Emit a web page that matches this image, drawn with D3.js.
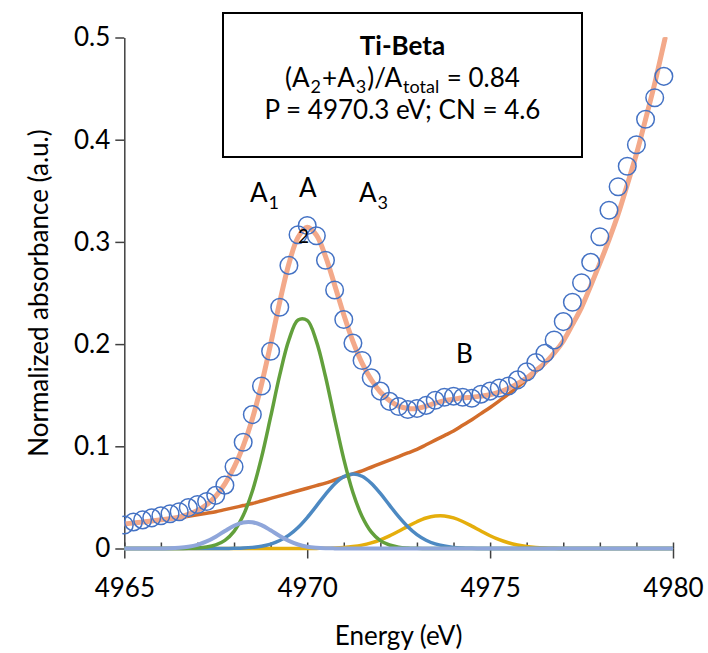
<!DOCTYPE html>
<html>
<head>
<meta charset="utf-8">
<script src="https://cdn.jsdelivr.net/npm/d3@7"></script>
<style>
  body { margin: 0; background: #fff; }
  text { font-family: Lato, 'Open Sans', sans-serif; fill: #000; }
</style>
</head>
<body>
<svg id="chart" width="708" height="653"></svg>
<script>
// measured Ti K pre-edge (open circles)
const measEnergy = [
  4965, 4965.25, 4965.5, 4965.75, 4966, 4966.25, 4966.5, 4966.75,
  4967, 4967.25, 4967.5, 4967.75, 4968, 4968.25, 4968.5, 4968.75,
  4969, 4969.25, 4969.5, 4969.75, 4970, 4970.25, 4970.5, 4970.75,
  4971, 4971.25, 4971.5, 4971.75, 4972, 4972.25, 4972.5, 4972.75,
  4973, 4973.25, 4973.5, 4973.75, 4974, 4974.25, 4974.5, 4974.75,
  4975, 4975.25, 4975.5, 4975.75, 4976, 4976.25, 4976.5, 4976.75,
  4977, 4977.25, 4977.5, 4977.75, 4978, 4978.25, 4978.5, 4978.75,
  4979, 4979.25, 4979.5, 4979.75
];
const measured = [
  0.023, 0.026, 0.028, 0.030, 0.032, 0.034, 0.036, 0.040,
  0.043, 0.046, 0.052, 0.062, 0.080, 0.104, 0.131, 0.159,
  0.193, 0.236, 0.277, 0.307, 0.316, 0.306, 0.282, 0.253,
  0.224, 0.201, 0.184, 0.167, 0.154, 0.144, 0.139, 0.136,
  0.137, 0.140, 0.145, 0.148, 0.149, 0.148, 0.147, 0.151,
  0.154, 0.157, 0.159, 0.165, 0.173, 0.182, 0.191, 0.204,
  0.222, 0.241, 0.260, 0.280, 0.305, 0.331, 0.354, 0.374,
  0.395, 0.420, 0.441, 0.462
];

// fit curves, read on the same grid out to 4980
const fitEnergy = measEnergy.concat([4980]);
const totalFit = [
  0.024, 0.025, 0.026, 0.027, 0.0281, 0.0292, 0.0307, 0.0334,
  0.0371, 0.0428, 0.0511, 0.0632, 0.0793, 0.1002, 0.1268, 0.1604,
  0.1998, 0.2413, 0.2786, 0.3046, 0.3143, 0.3068, 0.2858, 0.2579,
  0.2288, 0.2027, 0.1814, 0.1652, 0.1531, 0.1447, 0.1393, 0.1370,
  0.1370, 0.1394, 0.1422, 0.1447, 0.1460, 0.1474, 0.1481, 0.1491,
  0.1505, 0.1531, 0.1566, 0.1614, 0.1669, 0.1740, 0.1815, 0.1912,
  0.203, 0.219, 0.236, 0.257, 0.279, 0.302, 0.327, 0.356,
  0.386, 0.420, 0.455, 0.494, 0.534
];
const background = [
  0.024, 0.025, 0.026, 0.027, 0.028, 0.029, 0.030, 0.0315,
  0.033, 0.0345, 0.036, 0.038, 0.040, 0.042, 0.044, 0.0465,
  0.049, 0.0515, 0.054, 0.0565, 0.059, 0.0615, 0.064, 0.067,
  0.070, 0.073, 0.076, 0.0795, 0.083, 0.0865, 0.090, 0.0935,
  0.097, 0.1015, 0.106, 0.1105, 0.115, 0.1205, 0.126, 0.132,
  0.138, 0.1445, 0.151, 0.158, 0.165, 0.173, 0.181, 0.191,
  0.203, 0.219, 0.236, 0.257, 0.279, 0.302, 0.327, 0.356,
  0.386, 0.420, 0.455, 0.494, 0.534
];
const peakA1 = [
  0, 0, 0, 0, 0.0001, 0.0002, 0.0007, 0.0017,
  0.0036, 0.0069, 0.0116, 0.0171, 0.0223, 0.0255, 0.0257, 0.0228,
  0.0178, 0.0122, 0.0074, 0.0039, 0.0018, 0.0008, 0.0003, 0.0001,
  0, 0, 0, 0, 0, 0, 0, 0,
  0, 0, 0, 0, 0, 0, 0, 0,
  0, 0, 0, 0, 0, 0, 0, 0,
  0, 0, 0, 0, 0, 0, 0, 0,
  0, 0, 0, 0, 0
];
const peakA2 = [
  0, 0, 0, 0, 0, 0, 0, 0.0002,
  0.0005, 0.0014, 0.0035, 0.0080, 0.0168, 0.0322, 0.0560, 0.0889,
  0.1287, 0.1698, 0.2041, 0.2236, 0.2232, 0.2029, 0.1683, 0.1271,
  0.0875, 0.0548, 0.0314, 0.0163, 0.0077, 0.0034, 0.0013, 0.0005,
  0.0002, 0, 0, 0, 0, 0, 0, 0,
  0, 0, 0, 0, 0, 0, 0, 0,
  0, 0, 0, 0, 0, 0, 0, 0,
  0, 0, 0, 0, 0
];
const peakA3 = [
  0, 0, 0, 0, 0, 0, 0, 0,
  0, 0, 0, 0, 0.0002, 0.0005, 0.0011, 0.0022,
  0.0043, 0.0078, 0.0131, 0.0206, 0.0303, 0.0415, 0.0530, 0.0632,
  0.0703, 0.0730, 0.0707, 0.0639, 0.0539, 0.0424, 0.0311, 0.0213,
  0.0136, 0.0081, 0.0045, 0.0024, 0.0011, 0.0005, 0.0002, 0,
  0, 0, 0, 0, 0, 0, 0, 0,
  0, 0, 0, 0, 0, 0, 0, 0,
  0, 0, 0, 0, 0
];
const peakB = [
  0, 0, 0, 0, 0, 0, 0, 0,
  0, 0, 0, 0, 0, 0, 0, 0,
  0, 0, 0, 0, 0, 0.0001, 0.0002, 0.0005,
  0.0010, 0.0019, 0.0033, 0.0055, 0.0085, 0.0124, 0.0169, 0.0217,
  0.0262, 0.0298, 0.0317, 0.0318, 0.0299, 0.0264, 0.0219, 0.0171,
  0.0125, 0.0086, 0.0056, 0.0034, 0.0019, 0.0010, 0.0005, 0.0002,
  0, 0, 0, 0, 0, 0, 0, 0,
  0, 0, 0, 0, 0
];

const xTicks = [4965, 4970, 4975, 4980];
const xMinorTicks = d3.range(4965, 4981, 1);
const yTicks = [0, 0.1, 0.2, 0.3, 0.4, 0.5];

const svg = d3.select('#chart');
const x = d3.scaleLinear().domain([4965, 4980]).range([124.3, 673]);
const y = d3.scaleLinear().domain([0, 0.5]).range([548.5, 37.5]);
const axisColor = '#404040';

// axes
const yAxis = svg.append('g')
  .attr('transform', `translate(${x(4965)},0)`)
  .call(d3.axisLeft(y).tickValues(yTicks).tickSize(9).tickSizeOuter(0).tickPadding(5)
    .tickFormat((d) => String(d)));

const xAxis = svg.append('g')
  .attr('transform', `translate(0,${y(0)})`)
  .call(d3.axisBottom(x).tickValues(xTicks).tickSizeInner(10).tickSizeOuter(0).tickPadding(20)
    .tickFormat(d3.format('d')));

const xMinor = svg.append('g')
  .attr('transform', `translate(0,${y(0)})`)
  .call(d3.axisBottom(x).tickValues(xMinorTicks).tickSize(-6).tickFormat(''));
xMinor.select('.domain').remove();

[yAxis, xAxis, xMinor].forEach((g) => {
  g.attr('font-family', null).attr('font-size', null);
  g.selectAll('path, line').attr('stroke', axisColor).attr('stroke-width', 1.5);
  g.selectAll('text').attr('font-size', 26).attr('fill', '#000');
});

svg.append('text')
  .attr('transform', 'translate(48,293) rotate(-90)')
  .attr('text-anchor', 'middle')
  .attr('font-size', 26)
  .text('Normalized absorbance (a.u.)');

svg.append('text')
  .attr('x', (x(4965) + x(4980)) / 2)
  .attr('y', 645)
  .attr('text-anchor', 'middle')
  .attr('font-size', 26)
  .text('Energy (eV)');

// curves
svg.append('clipPath').attr('id', 'plot-clip')
  .append('rect')
  .attr('x', x(4965) - 2).attr('y', y(0.5))
  .attr('width', x(4980) - x(4965) + 4).attr('height', y(0) - y(0.5) + 10);

const plot = svg.append('g').attr('clip-path', 'url(#plot-clip)');

const line = d3.line()
  .x((d) => x(d[0]))
  .y((d) => y(d[1]))
  .curve(d3.curveCatmullRom);

const series = [
  { values: background, color: '#D36D2B', width: 3.5 },
  { values: peakB, color: '#E5AE0C', width: 3.5 },
  { values: peakA3, color: '#4D89C2', width: 3.5 },
  { values: peakA2, color: '#62A03C', width: 3.5 },
  { values: peakA1, color: '#8FA6DA', width: 4 },
  { values: totalFit, color: '#F3A98A', width: 5 },
];

series.forEach((s) => {
  plot.append('path')
    .datum(fitEnergy.map((e, i) => [e, s.values[i]]))
    .attr('d', line)
    .attr('fill', 'none')
    .attr('stroke', s.color)
    .attr('stroke-width', s.width)
    .attr('stroke-linejoin', 'round');
});

plot.selectAll('circle')
  .data(measEnergy.map((e, i) => [e, measured[i]]))
  .join('circle')
  .attr('cx', (d) => x(d[0]))
  .attr('cy', (d) => y(d[1]))
  .attr('r', 8.8)
  .attr('fill', 'none')
  .attr('stroke', '#4472C4')
  .attr('stroke-width', 1.5);

// peak labels
function subLabel(xPos, yPos, main, sub) {
  const t = svg.append('text').attr('x', xPos).attr('y', yPos).attr('font-size', 26);
  t.append('tspan').text(main);
  t.append('tspan').attr('dx', 1).attr('dy', 7).attr('font-size', 18).text(sub);
}
subLabel(250, 202, 'A', '1');
subLabel(359, 202, 'A', '3');
svg.append('text').attr('x', 299).attr('y', 197).attr('font-size', 26).text('A');
svg.append('text').attr('x', 298).attr('y', 243).attr('font-size', 19).text('2');
svg.append('text').attr('x', 456).attr('y', 363).attr('font-size', 26).text('B');

// annotation box
const boxX = 223, boxY = 13, boxW = 359, boxH = 144;
svg.append('rect')
  .attr('x', boxX).attr('y', boxY).attr('width', boxW).attr('height', boxH)
  .attr('fill', '#fff').attr('stroke', '#000').attr('stroke-width', 2);

const cx = boxX + boxW / 2;
svg.append('text').attr('x', cx).attr('y', 55).attr('text-anchor', 'middle')
  .attr('font-size', 26).attr('font-weight', 'bold').text('Ti-Beta');

const ratio = svg.append('text').attr('x', cx).attr('y', 87)
  .attr('text-anchor', 'middle').attr('font-size', 26);
[['(A', 0, null], ['2', 6, 18], ['+A', -6, null], ['3', 6, 18], [')/A', -6, null],
 ['total', 6, 18], [' = 0.84', -6, null]].forEach(([txt, dy, fs], i) => {
  const ts = ratio.append('tspan').attr('dy', dy).text(txt);
  if (i > 0) ts.attr('dx', 1);
  if (fs) ts.attr('font-size', fs);
});

svg.append('text').attr('x', cx).attr('y', 119).attr('text-anchor', 'middle')
  .attr('font-size', 26).text('P = 4970.3 eV; CN = 4.6');
</script>
</body>
</html>
